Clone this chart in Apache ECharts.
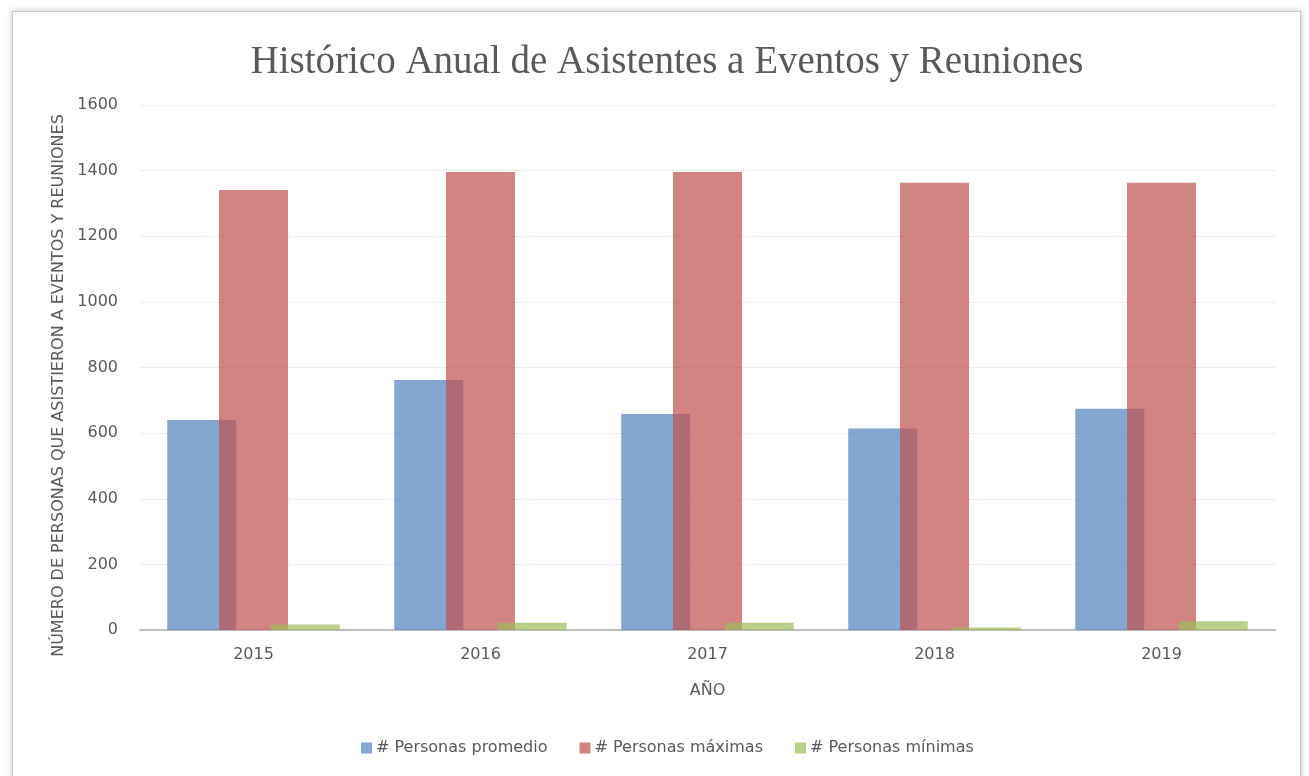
<!DOCTYPE html>
<html>
<head>
<meta charset="utf-8">
<script src="https://cdn.jsdelivr.net/npm/echarts@6/dist/echarts.min.js"></script>
<style>
  html, body { margin: 0; padding: 0; background: #fff; }
  #frame {
    position: absolute; left: 12px; top: 11px; width: 1287px; height: 780px;
    border: 1px solid #c8c8c8; box-shadow: 0 0 6px rgba(0,0,0,0.25);
  }
  #main { position: absolute; left: 0; top: 0; width: 1309px; height: 776px; }
</style>
</head>
<body>
<div id="frame"></div>
<div id="main"></div>
<script>
let years = ["2015", "2016", "2017", "2018", "2019"];
let promedio = [640, 762, 658, 614, 674];
let maximas = [1341, 1396, 1396, 1363, 1363];
let minimas = [17, 22, 22, 8, 27];
let yTicks = { min: 0, max: 1600, interval: 200 };

let chartDom = document.getElementById("main");
let myChart = echarts.init(chartDom);
let labelColor = "#595959";
let font = "'DejaVu Sans', sans-serif";

let option = {
    animation: false,
    title: {
        text: "Histórico Anual de Asistentes a Eventos y Reuniones",
        left: 662,
        textAlign: "center",
        top: 38,
        textStyle: {
            fontFamily: "'Liberation Serif', serif",
            fontWeight: "normal",
            fontSize: 39,
            color: labelColor,
        },
    },
    grid: { left: 140, right: 34, top: 105, bottom: 146 },
    legend: {
        top: 735,
        left: 356,
        itemWidth: 11,
        itemHeight: 11,
        itemGap: 32,
        icon: "rect",
        textStyle: { color: labelColor, fontSize: 16, fontFamily: font, padding: [0, 0, 0, -1] },
    },
    xAxis: {
        type: "category",
        data: years,
        name: "AÑO",
        nameLocation: "middle",
        nameGap: 53,
        nameTextStyle: { color: labelColor, fontSize: 16, fontFamily: font },
        axisLine: { lineStyle: { color: "#bfbfbf", width: 2 } },
        axisTick: { show: false },
        axisLabel: { color: labelColor, fontSize: 16, fontFamily: font, margin: 17 },
    },
    yAxis: {
        type: "value",
        min: yTicks.min,
        max: yTicks.max,
        interval: yTicks.interval,
        name: "NÚMERO DE PERSONAS QUE ASISTIERON A EVENTOS Y REUNIONES",
        nameLocation: "middle",
        nameGap: 67,
        nameTextStyle: { color: labelColor, fontSize: 16, fontFamily: font, padding: [0, 0, 0, -36] },
        axisLine: { show: false },
        axisTick: { show: false },
        axisLabel: {
            color: labelColor,
            fontSize: 16,
            fontFamily: font,
            margin: 22,
            formatter: (v) => String(v),
        },
        splitLine: { lineStyle: { color: "#ececec" } },
    },
    series: [
        {
            name: "# Personas promedio",
            type: "bar",
            data: promedio,
            barWidth: 69,
            barGap: "-25%",
            itemStyle: { color: "rgba(79,129,189,0.7)" },
        },
        {
            name: "# Personas máximas",
            type: "bar",
            data: maximas,
            barWidth: 69,
            barGap: "-25%",
            itemStyle: { color: "rgba(192,80,77,0.7)" },
        },
        {
            name: "# Personas mínimas",
            type: "bar",
            data: minimas,
            barWidth: 69,
            barGap: "-25%",
            itemStyle: { color: "rgba(155,187,89,0.7)" },
        },
    ],
};

myChart.setOption(option);
</script>
</body>
</html>
